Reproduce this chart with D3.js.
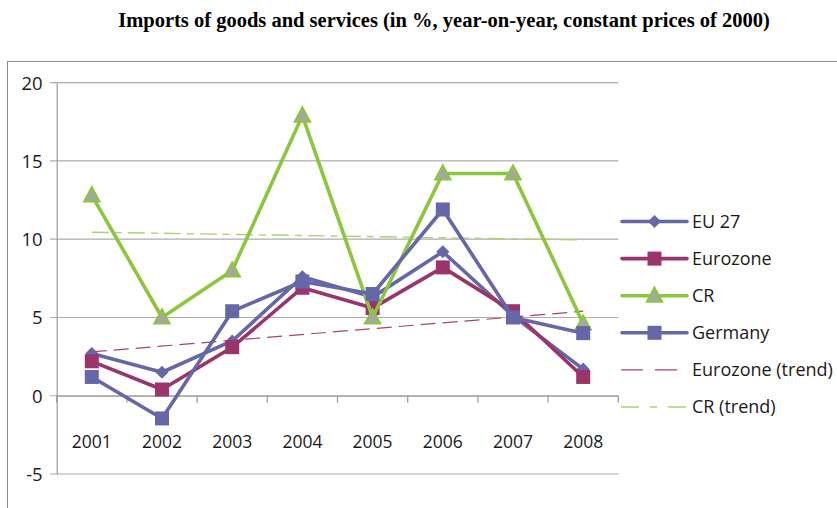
<!DOCTYPE html>
<html>
<head>
<meta charset="utf-8">
<script src="https://cdn.jsdelivr.net/npm/d3@7"></script>
<style>
  body { margin: 0; background: #fff; }
  svg { display: block; }
  .tick-label, .legend-label { font-family: "Open Sans", sans-serif; fill: #1d1a1b; }
  .title { font-family: "Liberation Serif", "Times New Roman", serif; font-weight: bold; font-size: 20.5px; fill: #000; }
</style>
</head>
<body>
<div id="chart"></div>
<script>
  const years = ["2001", "2002", "2003", "2004", "2005", "2006", "2007", "2008"];
  const eu27 = [2.7, 1.5, 3.5, 7.6, 6.3, 9.2, 5.1, 1.7];
  const eurozone = [2.2, 0.4, 3.1, 6.9, 5.6, 8.2, 5.4, 1.2];
  const cr = [12.8, 5.0, 8.0, 17.9, 5.0, 14.2, 14.2, 4.6];
  const germany = [1.2, -1.45, 5.4, 7.3, 6.5, 11.9, 5.0, 4.0];
  // trend lines, start (2001) and end (2008)
  const eurozoneTrend = [2.8, 5.4];
  const crTrend = [10.45, 9.95];
  const yTicks = [-5, 0, 5, 10, 15, 20];

  const width = 837;
  const height = 508;

  const svg = d3.select("#chart")
    .append("svg")
    .attr("width", width)
    .attr("height", height);

  const x = d3.scaleBand().domain(years).range([56.7, 618.3]);
  const y = d3.scaleLinear().domain([-5, 20]).range([474, 82.7]);
  const cx = (year) => x(year) + x.bandwidth() / 2;

  svg.append("text")
    .attr("class", "title")
    .attr("x", 444)
    .attr("y", 26.5)
    .attr("text-anchor", "middle")
    .text("Imports of goods and services (in %, year-on-year, constant prices of 2000)");

  // outer frame
  svg.append("rect")
    .attr("x", 7.5)
    .attr("y", 61.5)
    .attr("width", 900)
    .attr("height", 500)
    .attr("fill", "none")
    .attr("stroke", "#8c8c8c")
    .attr("stroke-width", 1);

  // gridlines
  svg.append("g")
    .selectAll("line")
    .data(yTicks)
    .join("line")
    .attr("x1", 50)
    .attr("x2", 618.3)
    .attr("y1", (d) => y(d))
    .attr("y2", (d) => y(d))
    .attr("stroke", "#adadad")
    .attr("stroke-width", 1.2);

  // y axis
  const yAxis = d3.axisLeft(y).tickValues(yTicks).tickSize(0).tickPadding(14)
    .tickFormat((d) => String(d));
  const yAxisG = svg.append("g").attr("transform", "translate(56.7,0)").call(yAxis);
  yAxisG.select(".domain").attr("stroke", "#9a9a9a").attr("stroke-width", 1.2);
  yAxisG.selectAll("text")
    .attr("class", "tick-label")
    .style("font-size", "18.5px")
    .attr("dy", "0.35em");

  // x axis at zero
  const xAxis = d3.axisBottom(x).tickSize(0).tickPadding(40);
  const xAxisG = svg.append("g").attr("transform", `translate(0,${y(0)})`).call(xAxis);
  xAxisG.select(".domain").attr("stroke", "#9a9a9a").attr("stroke-width", 1.2);
  xAxisG.selectAll("text")
    .attr("class", "tick-label")
    .style("font-size", "17.5px");
  xAxisG.selectAll(".boundary")
    .data(d3.range(years.length + 1))
    .join("line")
    .attr("x1", (i) => 56.7 + i * x.bandwidth())
    .attr("x2", (i) => 56.7 + i * x.bandwidth())
    .attr("y1", 0)
    .attr("y2", 7)
    .attr("stroke", "#9a9a9a")
    .attr("stroke-width", 1.2);

  const series = [
    { name: "EU 27", values: eu27, color: "#6567a8", marker: "diamond", fill: "#6567a8" },
    { name: "Eurozone", values: eurozone, color: "#9a346b", marker: "square", fill: "#9a346b" },
    { name: "CR", values: cr, color: "#8cc63f", marker: "triangle", fill: "#a6a6a6" },
    { name: "Germany", values: germany, color: "#6567a8", marker: "square", fill: "#6567a8" }
  ];

  const trends = [
    { name: "Eurozone (trend)", values: eurozoneTrend, color: "#a3437a", dash: "15,7", width: 1.2 },
    { name: "CR (trend)", values: crTrend, color: "#a9d46e", dash: "17,6,7,6", width: 1.4 }
  ];

  const line = d3.line().x((d) => cx(d.year)).y((d) => y(d.value));

  function markerPath(type) {
    if (type === "diamond") return d3.symbol(d3.symbolDiamond2, 110)();
    if (type === "square") return "M-7,-7H7V7H-7Z";
    return "M0,-8L7.5,6L-7.5,6Z";
  }

  function drawMarker(g, s, px, py) {
    g.append("path")
      .attr("transform", `translate(${px},${py})`)
      .attr("d", markerPath(s.marker))
      .attr("fill", s.fill)
      .attr("stroke", s.marker === "triangle" ? s.color : "none")
      .attr("stroke-width", 2.2);
  }

  // trend lines (behind series)
  trends.forEach((t) => {
    svg.append("line")
      .attr("x1", cx(years[0]))
      .attr("x2", cx(years[years.length - 1]))
      .attr("y1", y(t.values[0]))
      .attr("y2", y(t.values[1]))
      .attr("stroke", t.color)
      .attr("stroke-width", t.width)
      .attr("stroke-dasharray", t.dash);
  });

  series.forEach((s) => {
    const pts = years.map((year, i) => ({ year, value: s.values[i] }));
    const g = svg.append("g");
    g.append("path")
      .attr("d", line(pts))
      .attr("fill", "none")
      .attr("stroke", s.color)
      .attr("stroke-width", 3.6)
      .attr("stroke-linejoin", "round");
    pts.forEach((p) => drawMarker(g, s, cx(p.year), y(p.value)));
  });

  // legend
  const legendItems = series.concat(trends);
  const legend = svg.append("g");
  legendItems.forEach((item, i) => {
    const ly = 221.5 + i * 37.1;
    const row = legend.append("g");
    if (item.dash) {
      row.append("line")
        .attr("x1", 621).attr("x2", 687)
        .attr("y1", ly).attr("y2", ly)
        .attr("stroke", item.color)
        .attr("stroke-width", item.width)
        .attr("stroke-dasharray", item.dash === "15,7" ? "22,12" : "18,11,7,11");
    } else {
      row.append("line")
        .attr("x1", 622).attr("x2", 687)
        .attr("y1", ly).attr("y2", ly)
        .attr("stroke", item.color)
        .attr("stroke-width", 3.6)
        .attr("stroke-linecap", "round");
      drawMarker(row, item, 654.5, ly);
    }
    row.append("text")
      .attr("class", "legend-label")
      .attr("x", 692)
      .attr("y", ly)
      .attr("dy", "0.36em")
      .style("font-size", "18px")
      .text(item.name);
  });
</script>
</body>
</html>
